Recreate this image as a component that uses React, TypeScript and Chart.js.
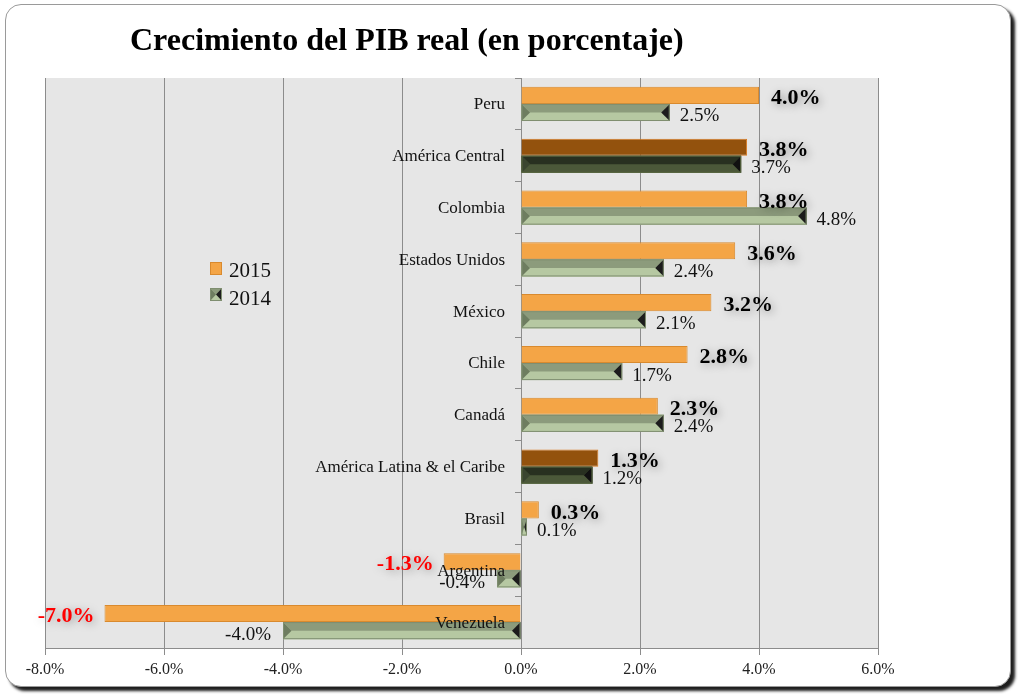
import React, { useEffect, useRef } from 'react';
import { Chart, registerables } from 'chart.js';

Chart.register(...registerables);

const title = 'Crecimiento del PIB real (en porcentaje)';
const categories = [
  'Peru',
  'América Central',
  'Colombia',
  'Estados Unidos',
  'México',
  'Chile',
  'Canadá',
  'América Latina & el Caribe',
  'Brasil',
  'Argentina',
  'Venezuela',
];
const seriesLabels = ['2015', '2014'];
const values2015 = [4.0, 3.8, 3.8, 3.6, 3.2, 2.8, 2.3, 1.3, 0.3, -1.3, -7.0];
const values2014 = [2.5, 3.7, 4.8, 2.4, 2.1, 1.7, 2.4, 1.2, 0.1, -0.4, -4.0];
const highlighted = ['América Central', 'América Latina & el Caribe'];
const xMin = -8;
const xMax = 6;
const xStep = 2;

const FONT = '"Liberation Serif", "DejaVu Serif", serif';

const isHi = (i: number) => highlighted.includes(categories[i]);

const orange = '#F4A546';
const orangeBorder = '#D98A2E';
const brown = '#93520D';
const brownBorder = '#D9791F';

function drawBevel(ctx: CanvasRenderingContext2D, left: number, right: number, top: number, bottom: number, dark: boolean) {
  const h = bottom - top;
  const mid = top + h / 2;
  const w = right - left;
  const d = Math.min(h * 0.5, w / 2);
  const c = dark
    ? { bottom: '#4b5839', top: '#283020', lt: '#3a4530', rt: '#111111', border: '#56653f' }
    : { bottom: '#b6c8a2', top: '#8c9b7c', lt: '#6e7d60', rt: '#1c1c1c', border: '#7f8e70' };
  ctx.save();
  ctx.fillStyle = c.bottom;
  ctx.fillRect(left, top, w, h);
  ctx.fillStyle = c.top;
  ctx.beginPath();
  ctx.moveTo(left, top);
  ctx.lineTo(right, top);
  ctx.lineTo(right - d, mid);
  ctx.lineTo(left + d, mid);
  ctx.closePath();
  ctx.fill();
  ctx.fillStyle = c.lt;
  ctx.beginPath();
  ctx.moveTo(left, top);
  ctx.lineTo(left + d, mid);
  ctx.lineTo(left, bottom);
  ctx.closePath();
  ctx.fill();
  ctx.fillStyle = c.rt;
  ctx.beginPath();
  ctx.moveTo(right, top);
  ctx.lineTo(right - d, mid);
  ctx.lineTo(right, bottom);
  ctx.closePath();
  ctx.fill();
  ctx.strokeStyle = c.border;
  ctx.lineWidth = 1;
  ctx.strokeRect(left + 0.5, top + 0.5, Math.max(w - 1, 0), h - 1);
  ctx.restore();
}

const customPlugin = {
  id: 'custom',
  beforeDraw(chart: any) {
    const { ctx, chartArea } = chart;
    ctx.save();
    ctx.fillStyle = '#e6e6e6';
    ctx.fillRect(chartArea.left, chartArea.top, chartArea.right - chartArea.left, chartArea.bottom - chartArea.top);
    ctx.restore();
  },
  afterDatasetsDraw(chart: any) {
    const { ctx } = chart;
    // bevel look for 2014 bars
    const meta1 = chart.getDatasetMeta(1);
    meta1.data.forEach((el: any, i: number) => {
      const left = Math.min(el.x, el.base);
      const right = Math.max(el.x, el.base);
      drawBevel(ctx, left, right, el.y - el.height / 2, el.y + el.height / 2, isHi(i));
    });
    // category labels next to the zero axis
    const xs = chart.scales.x;
    const ys = chart.scales.y;
    const zeroX = xs.getPixelForValue(0);
    ctx.save();
    ctx.font = `17px ${FONT}`;
    ctx.fillStyle = '#111';
    ctx.textAlign = 'right';
    ctx.textBaseline = 'middle';
    categories.forEach((c, i) => {
      ctx.fillText(c, zeroX - 16, ys.getPixelForValue(i) + 1);
    });
    ctx.restore();
    // value labels
    const meta0 = chart.getDatasetMeta(0);
    ctx.save();
    meta0.data.forEach((el: any, i: number) => {
      const v = values2015[i];
      const txt = v.toFixed(1) + '%';
      ctx.font = `bold 22px ${FONT}`;
      ctx.textBaseline = 'middle';
      ctx.shadowColor = 'rgba(0,0,0,0.35)';
      ctx.shadowBlur = 8;
      ctx.shadowOffsetX = 2;
      ctx.shadowOffsetY = 2;
      if (v >= 0) {
        ctx.textAlign = 'left';
        ctx.fillStyle = '#000';
        ctx.fillText(txt, el.x + 12, el.y + 3);
      } else {
        ctx.textAlign = 'right';
        ctx.fillStyle = '#ff0000';
        ctx.fillText(txt, el.x - 10, el.y + 3);
      }
    });
    ctx.restore();
    ctx.save();
    meta1.data.forEach((el: any, i: number) => {
      const v = values2014[i];
      const txt = v.toFixed(1) + '%';
      ctx.font = `19px ${FONT}`;
      ctx.textBaseline = 'middle';
      ctx.fillStyle = '#111';
      if (v >= 0) {
        ctx.textAlign = 'left';
        ctx.fillText(txt, el.x + 10, el.y + 4);
      } else {
        ctx.textAlign = 'right';
        ctx.fillText(txt, el.x - 12, el.y + 4);
      }
    });
    ctx.restore();
  },
  afterDraw(chart: any) {
    const { ctx, chartArea } = chart;
    ctx.save();
    // title
    ctx.font = `bold 32px ${FONT}`;
    ctx.fillStyle = '#000';
    ctx.textAlign = 'left';
    ctx.textBaseline = 'middle';
    ctx.fillText(title, 130, 42);
    // legend
    const lx = chartArea.left + 165;
    const ly = chartArea.top + 184;
    ctx.fillStyle = orange;
    ctx.fillRect(lx, ly, 12, 13);
    ctx.strokeStyle = orangeBorder;
    ctx.lineWidth = 1;
    ctx.strokeRect(lx + 0.5, ly + 0.5, 11, 12);
    drawBevel(ctx, lx, lx + 12, ly + 26, ly + 39, false);
    ctx.font = `21px ${FONT}`;
    ctx.fillStyle = '#111';
    ctx.textAlign = 'left';
    ctx.textBaseline = 'middle';
    ctx.fillText(seriesLabels[0], lx + 19, ly + 9);
    ctx.fillText(seriesLabels[1], lx + 19, ly + 37);
    ctx.restore();
  },
};

export default function App() {
  const ref = useRef<HTMLCanvasElement>(null);
  useEffect(() => {
    if (!ref.current) return;
    const chart = new Chart(ref.current, {
      type: 'bar',
      data: {
        labels: categories,
        datasets: [
          {
            label: seriesLabels[0],
            data: values2015,
            backgroundColor: categories.map((_, i) => (isHi(i) ? brown : orange)),
            borderColor: categories.map((_, i) => (isHi(i) ? brownBorder : orangeBorder)),
            borderWidth: 1,
            barPercentage: 1,
            categoryPercentage: 0.66,
          },
          {
            label: seriesLabels[1],
            data: values2014,
            backgroundColor: '#b6c8a2',
            borderWidth: 0,
            barPercentage: 1,
            categoryPercentage: 0.66,
          },
        ],
      },
      options: {
        indexAxis: 'y',
        animation: false,
        responsive: false,
        maintainAspectRatio: false,
        layout: { padding: { left: 45, right: 146, top: 78, bottom: 0 } },
        plugins: {
          legend: { display: false },
          tooltip: { enabled: false },
          title: { display: false },
        },
        scales: {
          x: {
            type: 'linear',
            min: xMin,
            max: xMax,
            ticks: {
              stepSize: xStep,
              callback: (v: any) => Number(v).toFixed(1) + '%',
              font: { family: FONT, size: 16 },
              color: '#222',
              padding: 5,
            },
            grid: { color: '#8c8c8c', lineWidth: 1, drawTicks: true, tickLength: 7, tickColor: '#8c8c8c' },
            border: { display: true, color: '#8c8c8c' },
            afterFit: (s: any) => {
              s.height = 52;
            },
          },
          y: {
            type: 'category',
            position: { x: 0 } as any,
            ticks: { display: false },
            grid: { drawOnChartArea: false, drawTicks: true, tickLength: 6, color: '#8c8c8c', offset: true },
            border: { display: true, color: '#8c8c8c' },
          },
        },
      } as any,
      plugins: [customPlugin],
    });
    return () => chart.destroy();
  }, []);
  return (
    <div style={{ position: 'absolute', left: 0, top: 0, width: 1024, height: 700, background: '#fff', overflow: 'hidden' }}>
      <div
        style={{
          position: 'absolute',
          left: 5,
          top: 4,
          width: 1004,
          height: 681,
          border: '1px solid #9a9a9a',
          borderRadius: 16,
          boxShadow: '4px 4px 3px #1e1e1e',
          background: '#fff',
        }}
      />
      <canvas ref={ref} width={1024} height={700} style={{ position: 'absolute', left: 0, top: 0, width: 1024, height: 700 }} />
    </div>
  );
}
